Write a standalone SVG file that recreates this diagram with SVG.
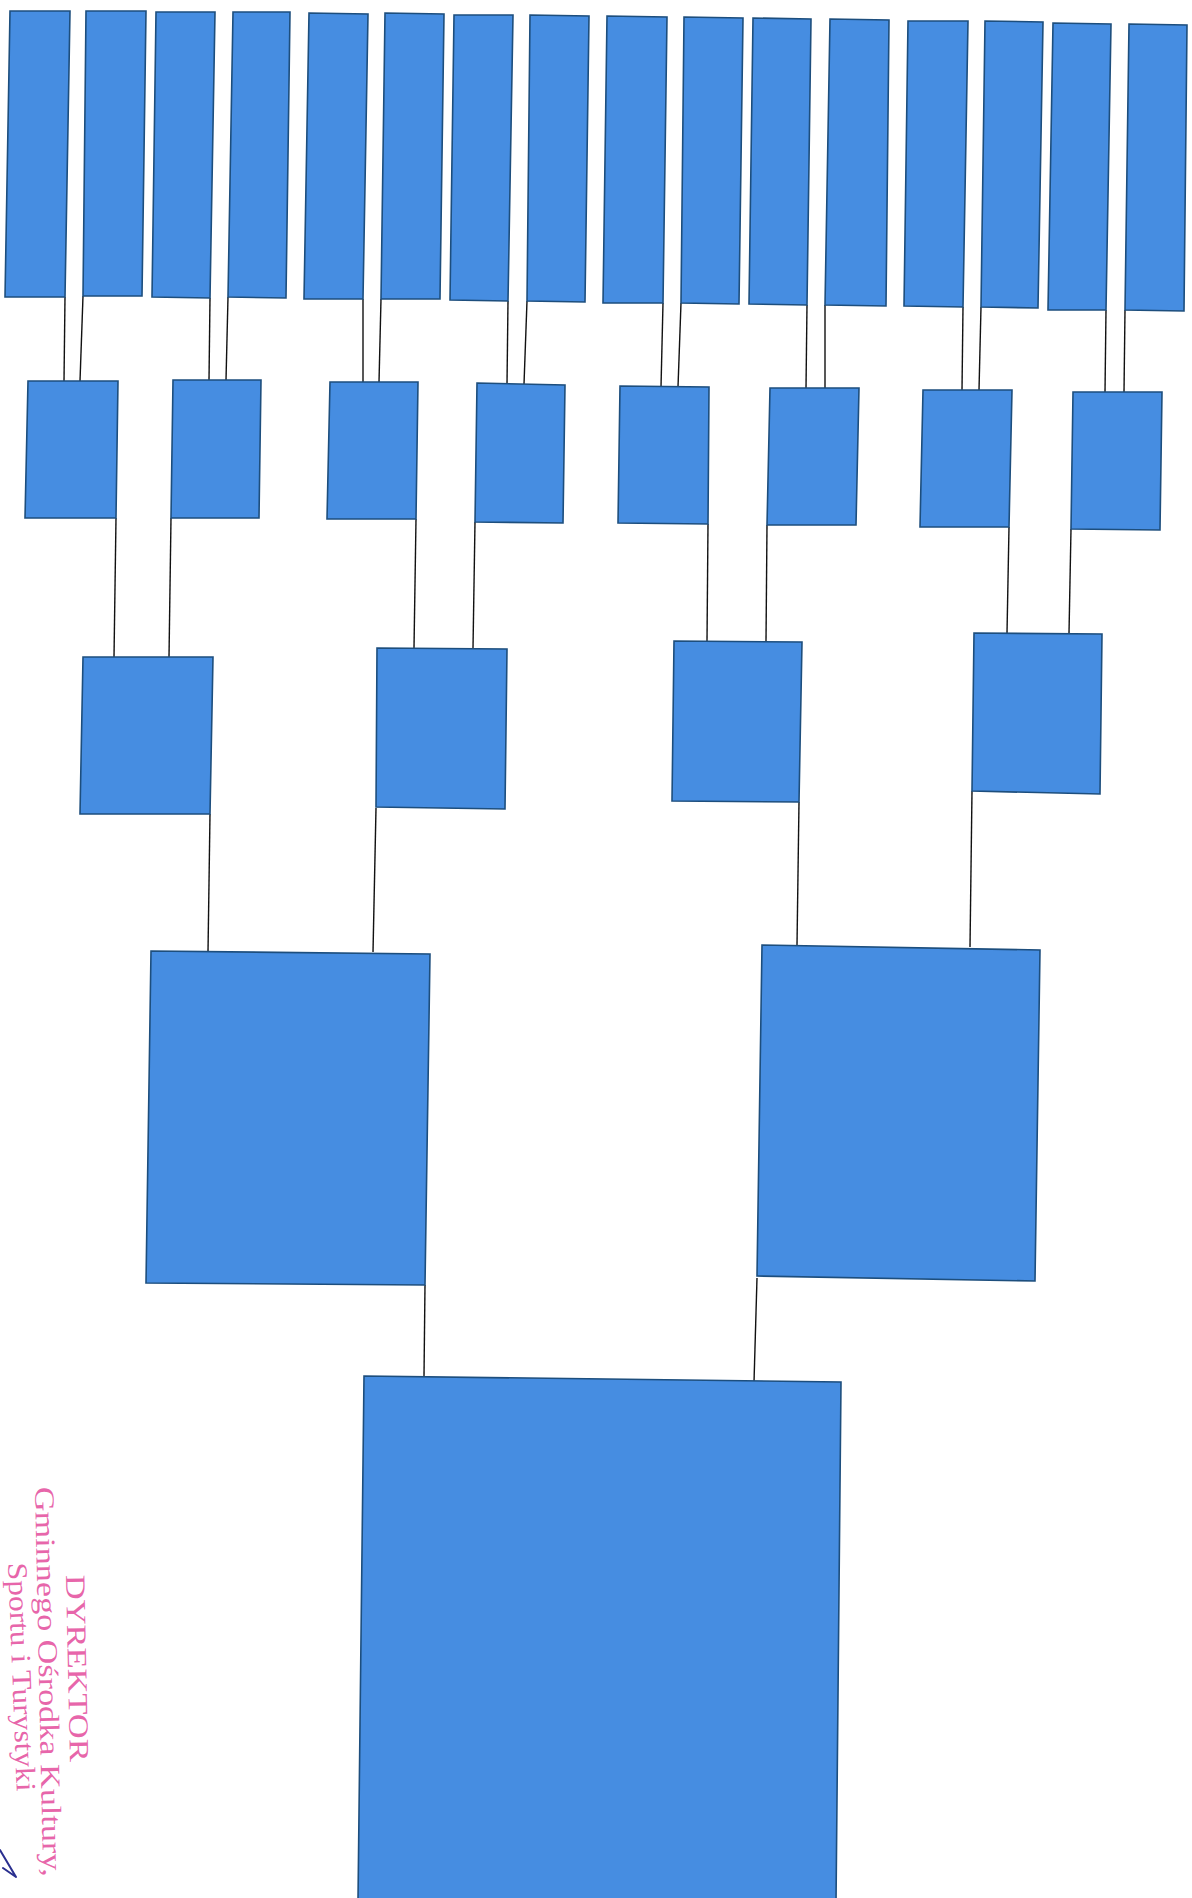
<svg xmlns="http://www.w3.org/2000/svg" width="1192" height="1898" viewBox="0 0 1192 1898">
<style>
.box{fill:#468de1;stroke:#1d4e7d;stroke-width:1.6;stroke-linejoin:miter}
.conn line{stroke:#111;stroke-width:1.4}
.stamp{font-family:"Liberation Serif","Times New Roman",serif;font-size:28px;fill:#e34a9b;fill-opacity:0.85}
</style>
<rect x="0" y="0" width="1192" height="1898" fill="#ffffff"/>
<g id="connectors" class="conn">
<line x1="65" y1="297" x2="64" y2="381"/>
<line x1="83" y1="296" x2="80" y2="381"/>
<line x1="210" y1="298" x2="209" y2="380"/>
<line x1="228" y1="297" x2="226" y2="380"/>
<line x1="363" y1="299" x2="363" y2="382"/>
<line x1="381" y1="299" x2="379" y2="382"/>
<line x1="508" y1="301" x2="507" y2="384"/>
<line x1="527" y1="301" x2="524" y2="384"/>
<line x1="663" y1="303" x2="661" y2="387"/>
<line x1="681" y1="303" x2="678" y2="387"/>
<line x1="807" y1="305" x2="806" y2="388"/>
<line x1="825" y1="305" x2="825" y2="388"/>
<line x1="963" y1="307" x2="962" y2="390"/>
<line x1="981" y1="307" x2="979" y2="390"/>
<line x1="1106" y1="310" x2="1105" y2="392"/>
<line x1="1125" y1="310" x2="1124" y2="392"/>
<line x1="116" y1="518" x2="114" y2="657"/>
<line x1="171" y1="518" x2="169" y2="657"/>
<line x1="416" y1="519" x2="414" y2="648"/>
<line x1="475" y1="522" x2="473" y2="648"/>
<line x1="708" y1="524" x2="707" y2="641"/>
<line x1="767" y1="525" x2="766" y2="641"/>
<line x1="1009" y1="527" x2="1007" y2="633"/>
<line x1="1071" y1="529" x2="1069" y2="633"/>
<line x1="210" y1="814" x2="208" y2="952"/>
<line x1="376" y1="808" x2="373" y2="952"/>
<line x1="799" y1="802" x2="797" y2="945"/>
<line x1="972" y1="791" x2="970" y2="947"/>
<line x1="425" y1="1285" x2="424" y2="1376"/>
<line x1="757" y1="1278" x2="754" y2="1382"/>
</g>
<g id="n1"><polygon class="box" points="10,11 70,11 65,297 5,297"/></g>
<g id="n2"><polygon class="box" points="86,11 146,11 142,296 83,296"/></g>
<g id="n3"><polygon class="box" points="156,12 215,12 210,298 152,297"/></g>
<g id="n4"><polygon class="box" points="233,12 290,12 286,298 228,297"/></g>
<g id="n5"><polygon class="box" points="309,13 368,14 363,299 304,299"/></g>
<g id="n6"><polygon class="box" points="385,13 444,14 440,299 381,299"/></g>
<g id="n7"><polygon class="box" points="454,15 513,15 508,301 450,300"/></g>
<g id="n8"><polygon class="box" points="530,15 589,16 585,302 527,301"/></g>
<g id="n9"><polygon class="box" points="607,16 667,17 663,303 603,303"/></g>
<g id="n10"><polygon class="box" points="684,17 743,18 739,304 681,303"/></g>
<g id="n11"><polygon class="box" points="753,18 811,19 807,305 749,304"/></g>
<g id="n12"><polygon class="box" points="830,19 889,20 886,306 825,305"/></g>
<g id="n13"><polygon class="box" points="908,21 968,21 963,307 904,306"/></g>
<g id="n14"><polygon class="box" points="985,21 1043,22 1038,308 981,307"/></g>
<g id="n15"><polygon class="box" points="1053,23 1111,24 1106,310 1048,310"/></g>
<g id="n16"><polygon class="box" points="1129,24 1187,25 1184,311 1125,310"/></g>
<g id="m1"><polygon class="box" points="28,381 118,381 116,518 25,518"/></g>
<g id="m2"><polygon class="box" points="173,380 261,380 259,518 171,518"/></g>
<g id="m3"><polygon class="box" points="330,382 418,382 416,519 327,519"/></g>
<g id="m4"><polygon class="box" points="477,383 565,385 563,523 475,522"/></g>
<g id="m5"><polygon class="box" points="620,386 709,387 708,524 618,523"/></g>
<g id="m6"><polygon class="box" points="770,388 859,388 856,525 767,525"/></g>
<g id="m7"><polygon class="box" points="923,390 1012,390 1009,527 920,527"/></g>
<g id="m8"><polygon class="box" points="1073,392 1162,392 1160,530 1071,529"/></g>
<g id="k1"><polygon class="box" points="83,657 213,657 210,814 80,814"/></g>
<g id="k2"><polygon class="box" points="377,648 507,649 505,809 376,807"/></g>
<g id="k3"><polygon class="box" points="674,641 802,642 799,802 672,801"/></g>
<g id="k4"><polygon class="box" points="974,633 1102,634 1100,794 972,791"/></g>
<g id="h1"><polygon class="box" points="151,951 430,954 425,1285 146,1283"/></g>
<g id="h2"><polygon class="box" points="762,945 1040,950 1035,1281 757,1276"/></g>
<g id="root"><polygon class="box" points="364,1376 841,1382 836,1904 358,1900"/></g>
<g id="stamp">
<text class="stamp" transform="translate(66,1575) rotate(88.8)" textLength="187" lengthAdjust="spacingAndGlyphs" fill-opacity="0.7">DYREKTOR</text>
<text class="stamp" transform="translate(35,1487) rotate(88.8)" textLength="390" lengthAdjust="spacingAndGlyphs">Gminnego Ośrodka Kultury,</text>
<text class="stamp" transform="translate(8,1563) rotate(87.8)" textLength="229" lengthAdjust="spacingAndGlyphs">Sportu i Turystyki</text>
<path d="M0,1850 L16,1877 L3,1868" fill="none" stroke="#2a2f8f" stroke-width="2" stroke-linecap="round" stroke-linejoin="round"/>
</g>
</svg>
